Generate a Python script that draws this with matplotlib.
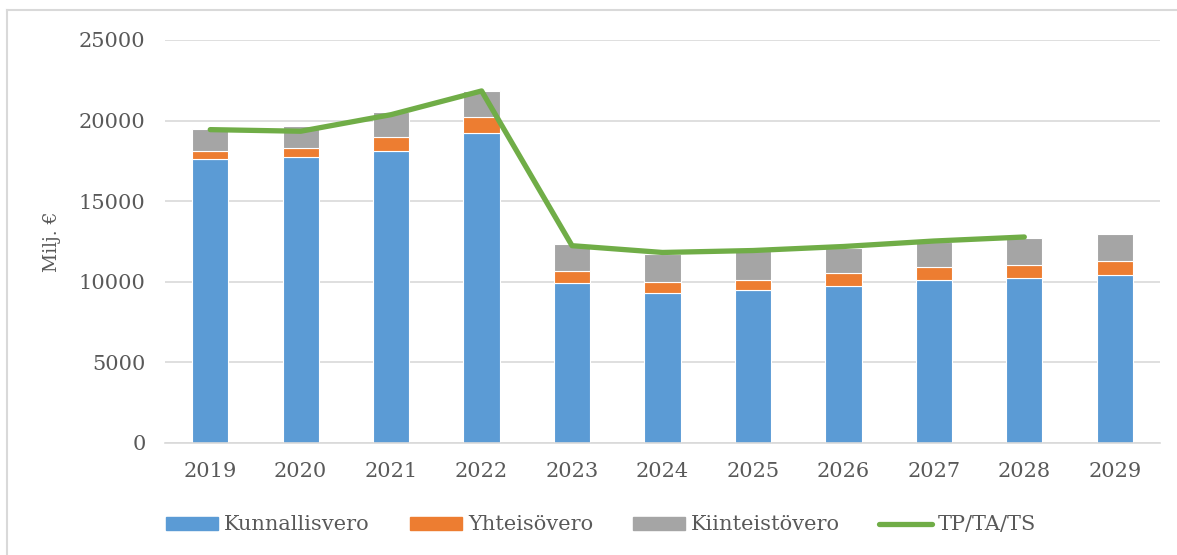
import matplotlib.pyplot as plt
from matplotlib.patches import Rectangle
from matplotlib.lines import Line2D
import numpy as np

# Data (milj. €)
years = ["2019", "2020", "2021", "2022", "2023", "2024",
         "2025", "2026", "2027", "2028", "2029"]
kunnallisvero = [17620, 17760, 18120, 19240, 9940, 9320,
                 9500, 9770, 10140, 10230, 10420]
yhteisovero = [500, 520, 880, 960, 700, 640, 640, 770, 790, 800, 840]
kiinteistovero = [1360, 1410, 1540, 1640, 1700, 1760,
                  1760, 1550, 1550, 1680, 1700]
tp_ta_ts = [19440, 19340, 20370, 21840, 12240, 11820,
            11940, 12190, 12530, 12780]

blue = "#5B9BD5"
orange = "#ED7D31"
gray = "#A5A5A5"
green = "#70AD47"
txt = "#595959"

plt.rcParams['font.family'] = ['DejaVu Serif']

fig = plt.figure(figsize=(11.77, 5.55), dpi=100)
ax = fig.add_axes([165 / 1177, 1 - 443 / 555, 995 / 1177, 403 / 555])

x = np.arange(len(years))
w = 0.40
k = np.array(kunnallisvero)
y = np.array(yhteisovero)
t = np.array(kiinteistovero)

ax.bar(x, k, w, color=blue, edgecolor="white", linewidth=0.8, zorder=2)
ax.bar(x, y, w, bottom=k, color=orange, edgecolor="white", linewidth=0.8, zorder=2)
ax.bar(x, t, w, bottom=k + y, color=gray, edgecolor="white", linewidth=0.8, zorder=2)
ax.plot(x[:len(tp_ta_ts)], tp_ta_ts, color=green, linewidth=3.8,
        solid_capstyle="round", zorder=3)

ax.set_xlim(-0.5, len(years) - 0.5)
ax.set_ylim(0, 25000)
ax.set_yticks(range(0, 25001, 5000))
ax.set_xticks(x)
ax.set_xticklabels(years)
ax.grid(axis="y", color="#D9D9D9", linewidth=1.2, zorder=0)
ax.set_axisbelow(True)
for s in ["top", "right", "left"]:
    ax.spines[s].set_visible(False)
ax.spines["bottom"].set_color("#D9D9D9")
ax.spines["bottom"].set_linewidth(1.2)
ax.tick_params(length=0, labelsize=15, colors=txt)
ax.tick_params(axis="y", pad=14)
ax.tick_params(axis="x", pad=14)

fig.text(52 / 1177, 1 - 242 / 555, "Milj. €", rotation=90, ha="center",
         va="center", fontsize=13.5, color=txt)

handles = [Rectangle((0, 0), 1, 1, color=blue),
           Rectangle((0, 0), 1, 1, color=orange),
           Rectangle((0, 0), 1, 1, color=gray),
           Line2D([0], [0], color=green, linewidth=3.8, solid_capstyle="round")]
labels = ["Kunnallisvero", "Yhteisövero", "Kiinteistövero", "TP/TA/TS"]
leg = fig.legend(handles, labels, loc="center", bbox_to_anchor=(601 / 1177, 1 - 525 / 555),
                 ncol=4, frameon=False, fontsize=15, handlelength=2.5,
                 handleheight=0.6, handletextpad=0.3, columnspacing=1.9)
for tx in leg.get_texts():
    tx.set_color(txt)

# chart border (only top and left edges are inside the crop)
bx = 7 / 1177
by = 1 - 10 / 555
fig.add_artist(Line2D([bx, 1], [by, by], transform=fig.transFigure,
                      color="#D9D9D9", linewidth=1.5))
fig.add_artist(Line2D([bx, bx], [0, by], transform=fig.transFigure,
                      color="#D9D9D9", linewidth=1.5))

fig.savefig("out.png", dpi=100)
